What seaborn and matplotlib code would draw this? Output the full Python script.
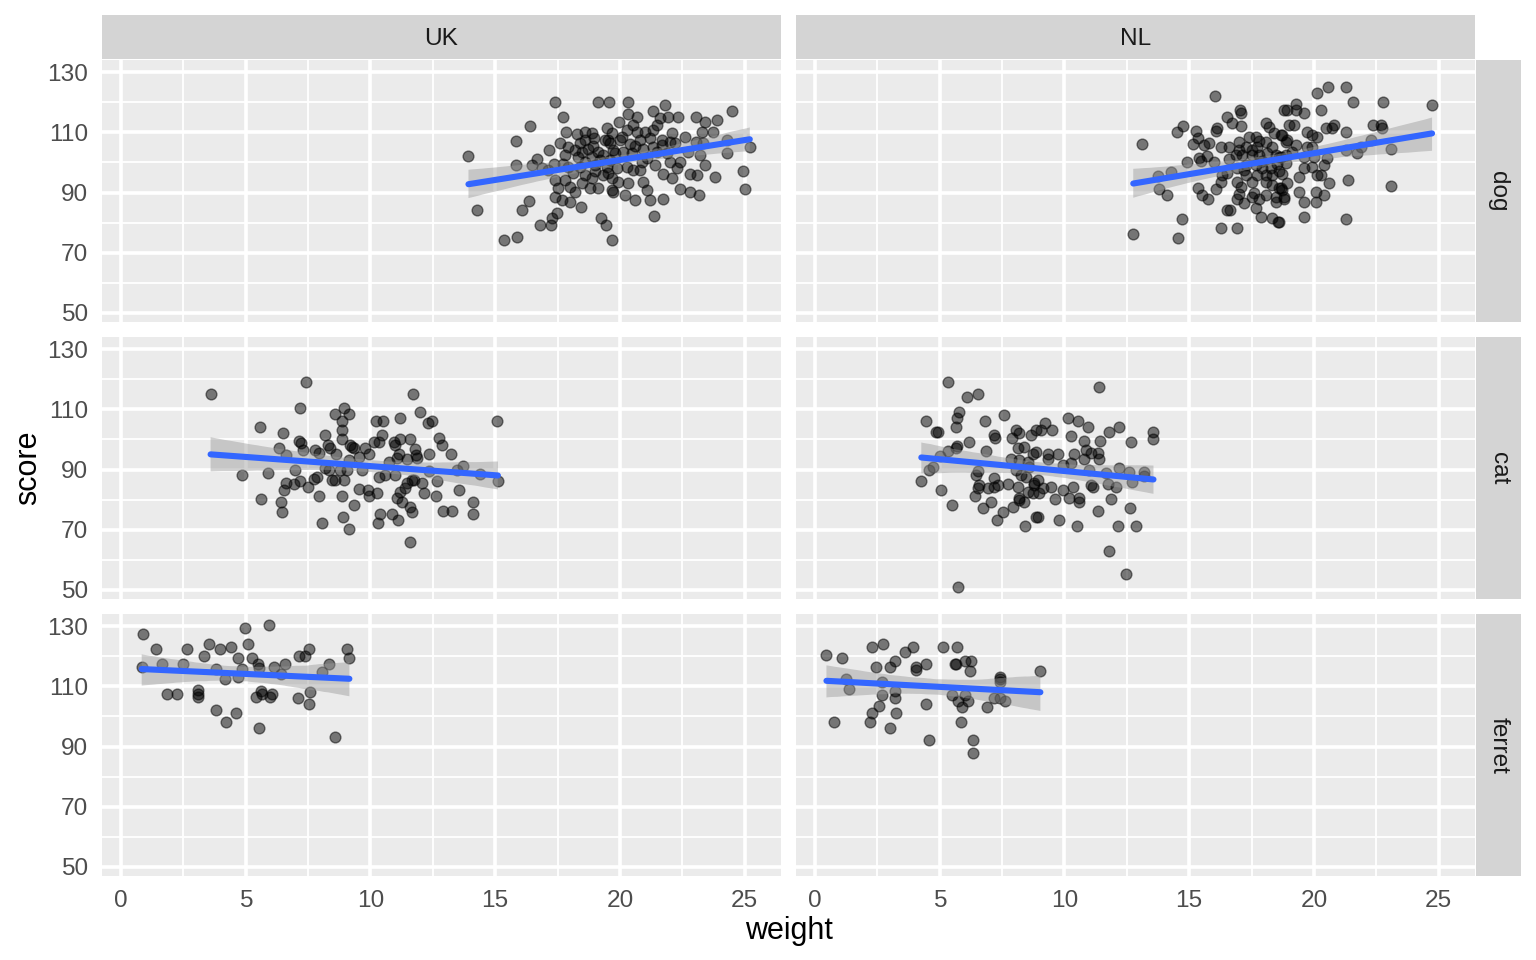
import numpy as np
import pandas as pd
import matplotlib
matplotlib.use("Agg")
import matplotlib.pyplot as plt
from matplotlib.ticker import MultipleLocator
from matplotlib.collections import PolyCollection
import seaborn as sns

countries = ["UK", "NL"]
species = ["dog", "cat", "ferret"]
x_ticks = [0, 5, 10, 15, 20, 25]
y_ticks = [50, 70, 90, 110, 130]

dog_uk_weight = [17.4, 19.13, 19.56, 17.73, 16.4, 15.83, 13.93, 17.84, 18.27, 18.6, 18.87, 18.97, 19.47, 19.69,
                 17.6, 17.93, 17.17, 18.4, 18.47, 18.73, 19.4, 19.6, 19.13, 16.67, 16.49, 16.89, 15.84, 17.37,
                 17.73, 17.93, 18.33, 18.6, 18.87, 19.2, 19.0, 19.47, 18.6, 18.87, 19.33, 19.67, 18.47, 18.8,
                 19.13, 19.67, 17.4, 17.8, 17.53, 18.0, 17.4, 17.67, 18.0, 18.2, 17.13, 16.36, 16.07, 18.44,
                 17.47, 17.27, 17.24, 16.8, 15.37, 15.87, 19.23, 19.43, 19.67, 14.27,
                 20.33, 21.8, 21.33, 20.33, 20.69, 21.93, 22.33, 21.6, 23.04, 24.47, 23.87, 23.4, 19.97, 20.53,
                 21.47, 21.33, 21.0, 20.67, 20.27, 23.27, 23.71, 23.04, 23.33, 22.07, 19.53, 20.0, 20.8, 21.2,
                 21.67, 22.0, 21.67, 24.27, 25.2, 19.73, 20.13, 20.47, 20.93, 21.33, 22.2, 22.73, 22.4, 22.0,
                 23.2, 24.27, 19.6, 19.87, 20.27, 20.53, 20.8, 21.73, 22.07, 22.8, 23.07, 23.4, 23.8, 24.91,
                 25.0, 22.4, 22.8, 23.17, 21.73, 21.2, 20.6, 20.2, 19.73, 19.93, 20.33, 20.93, 21.07, 21.36,
                 18.2, 18.9, 19.3, 19.8, 20.6, 21.1, 21.5, 20.4, 19.0, 18.4, 21.9, 22.6, 20.9, 19.5, 18.1,
                 21.4, 20.1, 22.3, 18.6, 17.8]
dog_uk_score = [120.1, 120.1, 120.1, 115.2, 112.1, 107.1, 102.2, 110.2, 109.3, 110.2, 109.6, 108.2, 111.3, 109.6,
                106.3, 105.2, 104.1, 106.3, 103.5, 104.6, 107.4, 106.3, 103.5, 101.0, 99.1, 98.0, 99.1, 99.4,
                99.4, 98.5, 101.9, 100.2, 101.9, 100.8, 99.1, 98.5, 95.8, 94.7, 95.8, 94.7, 93.0, 91.4,
                91.4, 90.8, 94.1, 94.1, 91.4, 91.9, 88.6, 87.5, 86.9, 90.2, 97.4, 87.1, 84.2, 85.2,
                83.1, 81.4, 79.2, 79.2, 74.2, 75.3, 81.4, 79.2, 74.2, 84.2,
                120.1, 119.0, 117.2, 116.1, 115.2, 115.2, 115.2, 114.6, 115.2, 117.2, 114.1, 113.3, 113.3, 112.4,
                112.4, 110.7, 110.2, 110.2, 110.7, 110.2, 110.2, 106.8, 106.3, 109.6, 107.4, 107.4, 107.4, 108.0,
                107.4, 106.8, 105.8, 107.4, 105.2, 104.1, 103.5, 103.0, 104.6, 105.2, 106.3, 103.5, 100.2, 100.2,
                102.4, 103.0, 100.8, 98.0, 98.5, 97.4, 97.4, 96.3, 94.7, 96.3, 95.8, 99.1, 95.0, 97.2,
                91.1, 91.1, 90.2, 89.1, 88.0, 87.5, 87.5, 89.1, 90.2, 93.5, 93.0, 93.5, 90.8, 82.2,
                104.0, 105.5, 102.5, 103.0, 105.5, 101.5, 103.5, 106.0, 97.0, 98.5, 103.0, 108.5, 100.0, 96.5, 96.5,
                99.0, 108.5, 98.0, 107.5, 102.5]

dog_nl_weight = [16.04, 13.13, 12.76, 14.57, 14.73, 16.27, 16.93, 16.53, 16.63, 13.77, 14.27, 13.8, 14.13, 14.53,
                 14.77, 15.29, 15.37, 15.16, 15.6, 15.8, 14.93, 15.4, 15.73, 16.0, 15.47, 15.37, 15.53, 15.77,
                 16.07, 16.27, 16.33, 16.13, 16.09, 16.27, 16.6, 16.53, 16.73, 17.03, 17.07, 17.07, 17.0, 17.4,
                 17.67, 18.07, 17.73, 17.27, 17.0, 18.07, 18.2, 18.4, 18.73, 18.87, 18.8, 16.87, 17.13, 17.53,
                 17.8, 18.13, 18.47, 18.67, 18.87, 16.93, 17.27, 17.67, 17.93, 18.27, 17.27, 17.73, 18.07, 18.33,
                 16.93, 17.07, 17.53, 18.07, 18.6, 18.73, 16.93, 17.2, 17.53, 17.8, 18.07, 18.47, 18.8, 17.67,
                 17.87, 18.47, 18.33, 18.57,
                 20.57, 21.29, 20.13, 21.56, 22.76, 24.73, 18.93, 19.27, 19.29, 19.6, 20.27, 19.0, 19.2, 18.67,
                 18.93, 19.73, 19.93, 20.13, 20.47, 20.73, 20.8, 21.27, 22.37, 22.67, 22.73, 22.27, 23.07, 21.27,
                 21.73, 21.87, 19.27, 19.73, 19.93, 18.6, 18.87, 19.6, 20.0, 20.53, 20.4, 18.73, 19.6, 19.93,
                 20.13, 20.27, 20.6, 21.37, 23.07, 18.67, 18.8, 19.4, 19.6, 20.07, 20.07, 20.4, 19.6, 18.6, 21.27,
                 17.5, 18.3, 17.9, 18.6, 17.2, 19.1, 17.6, 18.3, 16.6, 19.4, 17.0, 18.9, 16.5, 17.8, 18.5]
dog_nl_score = [122.1, 106.1, 76.1, 75.0, 81.1, 78.1, 78.1, 84.2, 84.2, 95.5, 96.7, 91.1, 89.1, 110.2,
                112.2, 110.4, 108.0, 106.1, 105.7, 106.3, 100.0, 101.5, 102.2, 100.0, 100.4, 91.4, 89.1, 88.0,
                91.1, 93.6, 95.8, 111.3, 110.4, 105.2, 105.2, 115.2, 113.0, 117.4, 116.3, 112.2, 106.9, 108.5,
                108.5, 106.9, 105.2, 105.2, 104.1, 113.0, 111.8, 109.6, 109.1, 106.9, 117.4, 102.4, 102.4, 102.4,
                102.4, 103.0, 102.4, 101.9, 102.4, 98.0, 99.1, 99.1, 98.0, 98.0, 95.8, 95.8, 95.8, 95.8,
                93.6, 91.9, 93.6, 93.6, 91.4, 90.8, 88.0, 86.4, 88.6, 88.0, 89.1, 88.6, 88.6, 84.7,
                81.9, 86.9, 81.4, 80.3,
                125.1, 125.1, 123.2, 120.1, 120.1, 119.0, 117.4, 117.4, 119.3, 116.3, 117.4, 112.4, 112.4, 109.1,
                107.4, 110.2, 109.1, 108.5, 111.3, 111.3, 112.4, 110.2, 112.4, 112.4, 111.3, 107.4, 104.4, 104.1,
                103.0, 105.2, 105.8, 105.2, 105.2, 101.9, 99.7, 101.9, 101.9, 101.3, 99.1, 96.3, 98.0, 98.5,
                95.8, 95.8, 93.0, 94.1, 92.1, 91.4, 88.0, 90.2, 86.9, 90.2, 86.9, 89.1, 81.9, 80.3, 81.1,
                104.0, 105.0, 100.5, 97.0, 97.5, 103.5, 90.0, 92.5, 101.0, 95.0, 89.5, 93.0, 96.5, 107.0, 99.5]

cat_uk_weight = [3.6, 7.43, 7.2, 5.56, 6.49, 4.87, 5.91, 6.36, 6.63, 7.13, 7.24, 7.29, 7.0, 6.63, 6.93, 6.53,
                 7.2, 7.51, 5.6, 6.43, 6.47, 7.8, 7.96, 8.2, 8.31, 8.4, 8.63, 7.93, 8.07, 7.73, 7.87, 8.2,
                 8.33, 8.47, 8.6, 8.93, 8.87, 8.87, 8.87, 8.57, 8.96, 9.16, 8.87, 8.89, 9.13, 9.33, 9.2, 9.33,
                 9.13, 8.8, 9.07,
                 11.71, 11.97, 12.31, 12.47, 11.2, 10.23, 10.49, 12.73, 12.89, 13.24, 15.09, 12.36, 13.73, 13.47,
                 14.4, 15.11, 13.57, 12.67, 12.64, 12.13, 14.13, 14.11, 12.93, 13.27, 11.6, 11.67, 11.6, 11.27,
                 11.07, 11.11, 10.37, 10.29, 10.87, 9.56, 9.91, 9.93, 10.27, 11.4, 11.2, 11.47, 12.07, 11.73,
                 12.33, 11.84, 11.8, 11.87, 10.93, 11.0, 11.2, 11.57, 10.47, 10.33, 10.13, 10.73, 11.07, 11.47,
                 11.13, 9.27, 9.8, 9.93, 9.53, 9.67, 10.33, 10.6, 11.0, 11.67]
cat_uk_score = [115.0, 119.1, 110.3, 104.2, 102.2, 88.1, 89.0, 97.0, 94.8, 99.4, 98.9, 96.4, 90.0, 85.4, 85.2, 83.2,
                86.2, 84.3, 80.2, 79.1, 76.0, 96.4, 95.6, 101.3, 98.1, 97.0, 95.3, 81.2, 72.1, 87.0, 87.6, 90.4,
                89.8, 86.5, 86.5, 86.5, 106.2, 103.1, 100.1, 108.4, 110.3, 108.4, 81.2, 74.3, 70.1, 78.2, 98.1, 97.0,
                93.1, 89.8, 89.8,
                115.0, 109.2, 105.3, 106.2, 107.2, 106.2, 106.2, 100.3, 98.1, 95.1, 106.2, 95.1, 91.1, 90.0,
                88.4, 86.1, 83.2, 86.2, 81.2, 82.1, 79.1, 75.1, 76.2, 76.2, 66.0, 76.0, 77.6, 79.3,
                80.4, 73.2, 75.2, 72.1, 75.2, 83.4, 83.2, 81.2, 82.3, 83.7, 82.6, 85.4, 85.4, 86.5,
                89.6, 94.8, 96.7, 93.7, 99.2, 98.1, 100.0, 100.0, 101.4, 99.2, 99.2, 92.6, 93.7, 93.4,
                95.3, 97.6, 97.0, 95.3, 94.2, 89.8, 87.6, 88.1, 88.1, 86.5]

cat_nl_weight = [5.33, 6.09, 6.56, 5.77, 5.69, 5.67, 4.44, 4.84, 4.93, 6.83, 7.6, 6.17, 5.69, 5.64, 5.33, 6.87,
                 7.2, 7.24, 5.0, 4.73, 4.57, 4.27, 5.07, 5.51, 6.53, 6.47, 6.6, 6.53, 6.44, 6.76, 7.07, 7.29,
                 7.53, 6.93, 7.2, 7.33, 7.2, 7.73, 7.93, 8.2, 8.44, 5.73, 8.07, 8.2, 7.91, 8.13, 8.4, 7.87,
                 8.2, 8.53, 8.07, 8.27, 8.47, 8.6, 8.73, 8.87, 8.13, 8.53, 8.8, 8.2, 8.4, 8.93, 8.87,
                 11.37, 10.13, 10.53, 10.93, 9.24, 9.07, 9.51, 8.67, 10.27, 11.8, 12.2, 10.77, 11.44, 12.67,
                 13.57, 13.57, 8.87, 9.33, 9.73, 10.37, 10.87, 11.07, 11.33, 9.33, 10.77, 11.4, 9.93, 10.27,
                 11.0, 11.67, 12.17, 12.57, 13.2, 12.71, 13.2, 11.73, 12.07, 10.33, 11.07, 11.13, 9.47, 9.13,
                 8.8, 8.73, 9.0, 9.93, 9.64, 10.2, 10.6, 10.6, 11.87, 11.33, 12.64, 8.93, 9.8, 10.51, 12.13,
                 12.87, 11.8, 12.47]
cat_nl_score = [119.1, 114.2, 115.0, 109.2, 107.2, 104.2, 106.1, 102.3, 102.3, 106.1, 108.1, 99.2, 97.8, 97.0, 96.1, 96.2,
                101.4, 100.3, 94.5, 90.9, 90.0, 86.1, 83.2, 78.2, 89.6, 88.1, 84.8, 83.7, 81.2, 77.3, 79.1, 73.2,
                76.0, 83.7, 84.3, 84.8, 87.2, 85.2, 77.4, 79.8, 71.2, 51.0, 103.1, 102.0, 100.3, 97.0, 97.5, 93.4,
                93.1, 92.6, 89.8, 88.1, 87.6, 90.9, 95.3, 103.1, 84.3, 82.6, 84.8, 80.4, 79.3, 86.5, 74.3,
                117.3, 107.2, 106.1, 104.2, 105.3, 103.1, 103.1, 101.4, 101.1, 102.3, 104.2, 99.4, 99.4, 99.2,
                102.3, 100.1, 95.9, 95.3, 95.3, 95.1, 96.4, 95.6, 95.6, 93.4, 93.4, 93.4, 91.5, 92.0,
                89.8, 88.7, 90.4, 89.2, 89.2, 85.9, 87.8, 85.1, 84.3, 84.3, 84.8, 84.3, 84.3, 83.7,
                85.4, 82.1, 82.1, 83.2, 80.2, 80.4, 80.4, 79.1, 80.2, 76.2, 77.3, 74.3, 73.2, 71.3, 71.3,
                71.3, 63.0, 55.2]

ferret_uk_weight = [0.89, 1.4, 0.84, 1.67, 2.67, 2.49, 1.87, 2.24, 3.1, 3.1, 3.1, 3.33, 3.53, 3.97, 4.4, 3.83,
                    4.17, 3.83, 4.2, 4.6, 4.7, 4.7, 4.87, 4.96, 5.1, 5.27, 5.5, 5.53, 5.93, 5.6, 5.64, 5.43,
                    5.96, 6.07, 5.53, 6.13, 6.44, 6.6, 7.13, 7.37, 7.53, 7.1, 7.57, 7.53, 8.07, 8.33, 9.07, 9.16,
                    8.57]
ferret_uk_score = [127.2, 122.3, 116.3, 117.3, 122.3, 117.3, 107.3, 107.3, 108.6, 107.3, 106.4, 120.1, 124.2, 122.3,
                   123.1, 115.6, 112.4, 102.2, 98.2, 101.1, 119.3, 113.1, 115.6, 129.2, 124.2, 119.3, 117.4, 116.0,
                   130.3, 108.4, 107.3, 106.4, 106.4, 107.3, 96.2, 116.3, 114.0, 117.3, 120.1, 120.1, 122.3, 106.2,
                   108.2, 104.2, 114.6, 117.3, 122.3, 119.3, 93.2]

ferret_nl_weight = [0.47, 1.09, 1.24, 1.37, 0.76, 2.31, 2.73, 2.47, 2.71, 2.71, 2.56, 2.29, 2.23, 3.0, 3.0, 3.2,
                    3.6, 3.93, 3.2, 3.2, 3.24, 4.07, 4.04, 4.47, 4.47, 4.56, 5.13, 5.69, 5.6, 5.67, 6.0, 6.27,
                    6.23, 5.51, 6.0, 5.73, 6.13, 5.89, 5.87, 6.33, 6.36, 6.89, 7.2, 7.43, 7.64, 7.43, 7.43, 7.43,
                    9.04]
ferret_nl_score = [120.4, 119.3, 112.3, 109.1, 98.0, 123.1, 124.2, 116.3, 111.3, 107.1, 103.4, 101.0, 98.0, 96.2,
                   116.3, 118.4, 121.3, 123.1, 108.4, 106.2, 101.0, 116.3, 115.4, 117.3, 104.1, 92.1, 123.1, 123.1,
                   117.3, 117.3, 118.4, 118.4, 115.2, 107.1, 107.1, 105.1, 105.1, 103.2, 98.0, 92.1, 88.0, 103.2,
                   106.2, 106.2, 105.1, 113.2, 112.3, 111.5, 115.2]

panels = {
    ("dog", "UK"): (dog_uk_weight, dog_uk_score),
    ("dog", "NL"): (dog_nl_weight, dog_nl_score),
    ("cat", "UK"): (cat_uk_weight, cat_uk_score),
    ("cat", "NL"): (cat_nl_weight, cat_nl_score),
    ("ferret", "UK"): (ferret_uk_weight, ferret_uk_score),
    ("ferret", "NL"): (ferret_nl_weight, ferret_nl_score),
}

rows = []
for (sp, co), (w, s) in panels.items():
    for wi, si in zip(w, s):
        rows.append({"species": sp, "country": co, "weight": wi, "score": si})
df = pd.DataFrame(rows)

sns.set_theme(style="darkgrid", rc={"axes.facecolor": "#EBEBEB", "grid.color": "white"})
plt.rcParams["font.family"] = ["Liberation Sans", "DejaVu Sans"]

W, H = 1536, 960
fig = plt.figure(figsize=(W / 200, H / 200), dpi=200)
fig.patch.set_facecolor("white")


def rect(x0, y0, x1, y1):
    return [x0 / W, 1 - y1 / H, (x1 - x0) / W, (y1 - y0) / H]


col_x = {"UK": (102, 781), "NL": (796, 1475)}
row_y = {"dog": (60, 322), "cat": (337, 599), "ferret": (614, 876)}
strip_color = "#D4D4D4"

for sp in species:
    for co in countries:
        x0, x1 = col_x[co]
        y0, y1 = row_y[sp]
        ax = fig.add_axes(rect(x0, y0, x1, y1))
        sub = df[(df.species == sp) & (df.country == co)]
        sns.scatterplot(data=sub, x="weight", y="score", ax=ax, color="black", alpha=0.5,
                        s=15, edgecolor="black", linewidth=0.5, zorder=3)
        n_before = len(ax.collections)
        sns.regplot(data=sub, x="weight", y="score", ax=ax, scatter=False, ci=95, n_boot=1000, seed=1,
                    line_kws={"color": "#3366FF", "lw": 2.2, "zorder": 5})
        for c in ax.collections[n_before:]:
            if isinstance(c, PolyCollection):
                c.set_alpha(None)
                c.set_facecolor((0.6, 0.6, 0.6, 0.45))
                c.set_edgecolor("none")
                c.set_zorder(4)
        ax.set_xlim(-0.75, 26.45)
        ax.set_ylim(47.0, 134.0)
        ax.set_xticks(x_ticks)
        ax.set_yticks(y_ticks)
        ax.xaxis.set_minor_locator(MultipleLocator(2.5))
        ax.yaxis.set_minor_locator(MultipleLocator(10))
        ax.grid(which="major", color="white", lw=1.3)
        ax.grid(which="minor", color="white", lw=0.65)
        ax.set_axisbelow(True)
        for sname in ax.spines:
            ax.spines[sname].set_visible(False)
        ax.set_xlabel("")
        ax.set_ylabel("")
        ax.tick_params(which="minor", length=0)
        ax.tick_params(which="major", length=2.75, width=1.0, color="#333333",
                       labelsize=8.8, labelcolor="#4D4D4D", pad=2.2)
        if co != "UK":
            ax.tick_params(axis="y", left=False, labelleft=False)
        if sp != "ferret":
            ax.tick_params(axis="x", bottom=False, labelbottom=False)

        if co == "NL":
            sax = fig.add_axes(rect(1476, y0, 1521, y1))
            sax.set_facecolor(strip_color)
            sax.set_xticks([]); sax.set_yticks([]); sax.grid(False)
            for sname in sax.spines:
                sax.spines[sname].set_visible(False)
            sax.text(0.5, 0.5, sp, rotation=-90, ha="center", va="center", fontsize=8.8,
                     color="#1A1A1A", transform=sax.transAxes)

for co in countries:
    x0, x1 = col_x[co]
    tax = fig.add_axes(rect(x0, 15, x1, 59))
    tax.set_facecolor(strip_color)
    tax.set_xticks([]); tax.set_yticks([]); tax.grid(False)
    for sname in tax.spines:
        tax.spines[sname].set_visible(False)
    tax.text(0.5, 0.45, co, ha="center", va="center", fontsize=8.8, color="#1A1A1A",
             transform=tax.transAxes)

fig.text(788.5 / W, 1 - 931 / H, "weight", ha="center", va="center", fontsize=11, color="black")
fig.text(28 / W, 1 - 468 / H, "score", ha="center", va="center", rotation=90, fontsize=11, color="black")

fig.savefig("out.png", dpi=200, facecolor="white")
